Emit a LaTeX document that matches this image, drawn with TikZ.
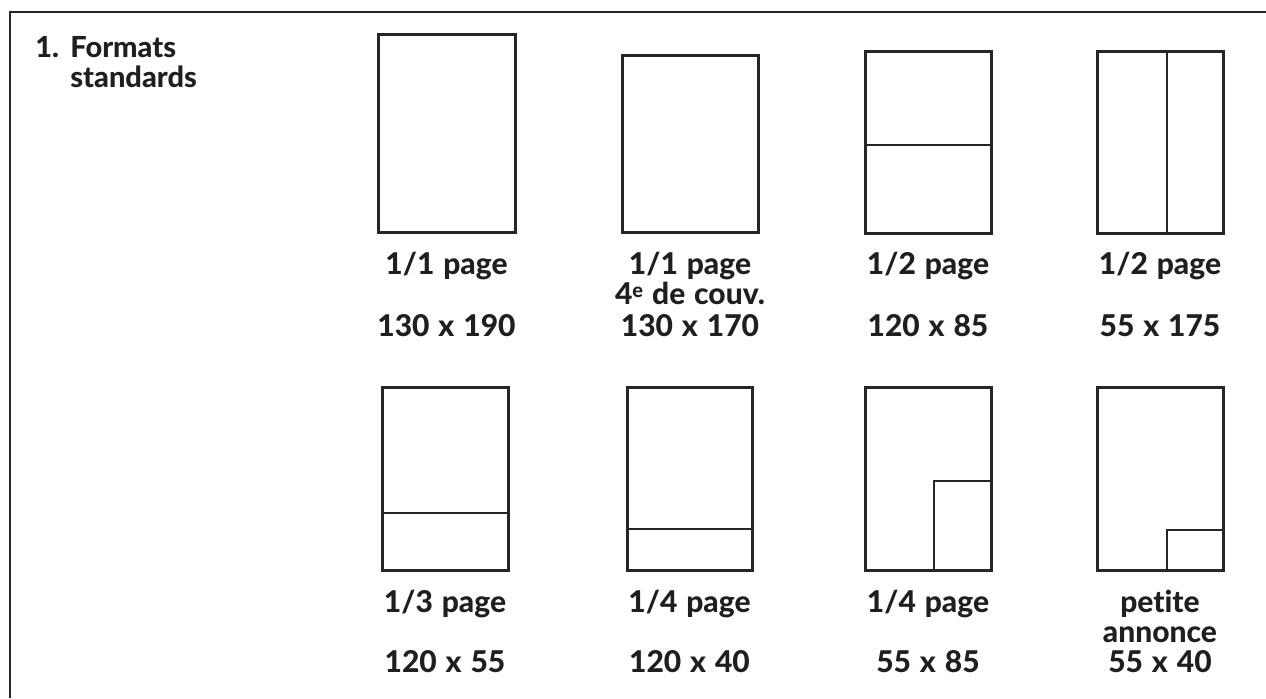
\documentclass[tikz,border=0pt]{standalone}
\usepackage{fontspec}
\setmainfont{Lato}[BoldFont={Lato Heavy},Ligatures=NoCommon,WordSpace=1.25]
\begin{document}
\begin{tikzpicture}[x=0.5pt,y=-0.5pt,
  frame/.style={line width=1.4pt,draw=black!85},
  pagebox/.style={line width=1.5pt,draw=black!85},
  divider/.style={line width=1.2pt,draw=black!85},
  lbl/.style={anchor=base,inner sep=0pt,font=\fontsize{15}{16}\selectfont\bfseries,text=black!88},
  head/.style={anchor=base west,inner sep=0pt,font=\fontsize{14.5}{16}\selectfont\bfseries,text=black!88}]
\useasboundingbox (0,0) rectangle (1266,698);
\fill[white] (0,0) rectangle (1266,698);
% frame (cut at right and bottom)
\draw[frame] (10,698) -- (10,12) -- (1266,12);
% heading
\node[head] (h1) at (35,57) {1.};
\node[head] (h2) at (70,57) {Formats};
\node[head] (h3) at (70,87) {standards};
% row 1
\draw[pagebox] (378,34) rectangle (515,232);
\draw[pagebox] (622,55) rectangle (758,232);
\draw[pagebox] (865,51) rectangle (991,233);
\draw[divider] (865,145) -- (991,145);
\draw[pagebox] (1097,51) rectangle (1223,233);
\draw[divider] (1167,51) -- (1167,233);
\node[lbl] (l1) at (446.5,274) {1/1 page};
\node[lbl] (n1) at (446.5,336) {130 x 190};
\node[lbl] (l2) at (690,274) {1/1 page};
\node[lbl] (l2b) at (690,304) {4\raisebox{0.45ex}{\fontsize{10}{12}\selectfont e} de couv.};
\node[lbl] (n2) at (690,336) {130 x 170};
\node[lbl] (l3) at (928,274) {1/2 page};
\node[lbl] (n3) at (928,336) {120 x 85};
\node[lbl] (l4) at (1160,274) {1/2 page};
\node[lbl] (n4) at (1160,336) {55 x 175};
% row 2
\draw[pagebox] (382,387) rectangle (508,570);
\draw[divider] (382,513) -- (508,513);
\draw[pagebox] (627,387) rectangle (752,570);
\draw[divider] (627,529) -- (752,529);
\draw[pagebox] (865,387) rectangle (991,570);
\draw[divider] (934,570) -- (934,481) -- (991,481);
\draw[pagebox] (1097,387) rectangle (1223,570);
\draw[divider] (1167,570) -- (1167,530) -- (1223,530);
\node[lbl] (l5) at (445,612) {1/3 page};
\node[lbl] (n5) at (445,672) {120 x 55};
\node[lbl] (l6) at (689.5,612) {1/4 page};
\node[lbl] (n6) at (689.5,672) {120 x 40};
\node[lbl] (l7) at (928,612) {1/4 page};
\node[lbl] (n7) at (928,672) {55 x 85};
\node[lbl] (l8) at (1160,612) {petite};
\node[lbl] (l8b) at (1160,642) {annonce};
\node[lbl] (n8) at (1160,672) {55 x 40};
\end{tikzpicture}
\end{document}
